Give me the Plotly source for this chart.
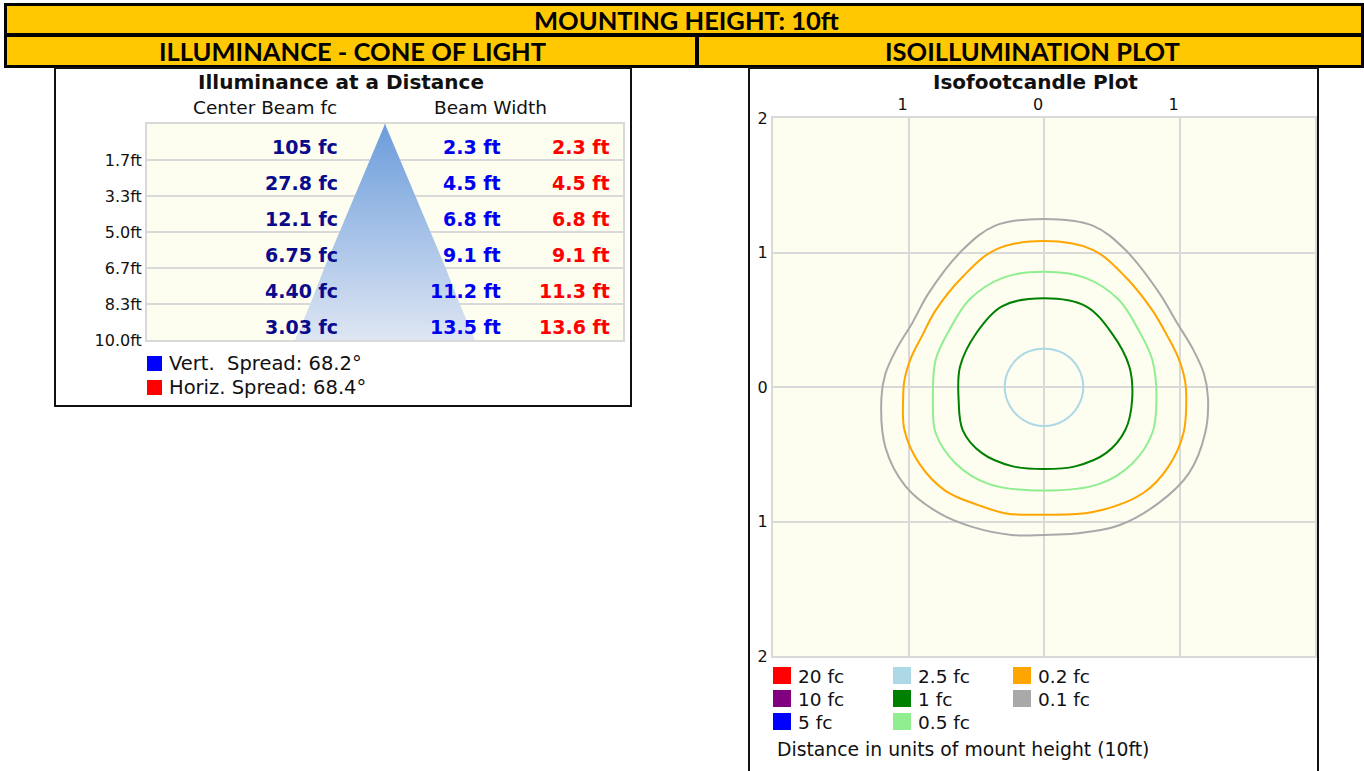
import plotly.graph_objects as go

W, H = 1364, 771

# ---------------- data: illuminance at a distance ----------------
distances_ft = [1.667, 3.333, 5.0, 6.667, 8.333, 10.0]
distance_labels = ["1.7ft", "3.3ft", "5.0ft", "6.7ft", "8.3ft", "10.0ft"]
center_beam_fc = [105, 27.8, 12.1, 6.75, 4.40, 3.03]
vert_width_ft = [2.3, 4.5, 6.8, 9.1, 11.2, 13.5]
horiz_width_ft = [2.3, 4.5, 6.8, 9.1, 11.3, 13.6]
vert_spread_deg = 68.2
horiz_spread_deg = 68.4

# ---------------- data: isofootcandle plot (units of mount height) ----------------
iso_tick_vals = [-2, -1, 0, 1, 2]
iso_top_ticktext = ["", "1", "0", "1", ""]
iso_left_ticktext = ["2", "1", "0", "1", "2"]

iso_0p1_x = [0, 0.36, 0.60, 0.85, 0.98, 1.10, 1.18, 1.21, 1.19, 1.07, 0.85, 0.55, 0.23, 0,
             -0.24, -0.53, -0.77, -1.02, -1.17, -1.20, -1.17, -1.09, -0.97, -0.85, -0.60, -0.36, 0]
iso_0p1_y = [1.25, 1.20, 1.02, 0.70, 0.48, 0.28, 0.10, -0.08, -0.34, -0.64, -0.86, -1.03, -1.09, -1.10,
             -1.10, -1.04, -0.94, -0.74, -0.45, -0.08, 0.10, 0.28, 0.48, 0.70, 1.02, 1.20, 1.25]

iso_0p2_x = [0, 0.36, 0.60, 0.80, 0.91, 0.99, 1.04, 1.05, 1.03, 0.92, 0.73, 0.36, 0,
             -0.28, -0.48, -0.73, -0.92, -1.03, -1.04, -1.03, -0.98, -0.90, -0.80, -0.60, -0.36, 0]
iso_0p2_y = [1.085, 1.02, 0.82, 0.57, 0.38, 0.22, 0.05, -0.10, -0.34, -0.59, -0.79, -0.93, -0.95,
             -0.94, -0.88, -0.77, -0.57, -0.32, -0.10, 0.05, 0.22, 0.38, 0.57, 0.82, 1.02, 1.085]

iso_0p5_x = [0, 0.31, 0.55, 0.70, 0.80, 0.83, 0.80, 0.65, 0.41, 0,
             -0.41, -0.65, -0.80, -0.82, -0.80, -0.70, -0.55, -0.31, 0]
iso_0p5_y = [0.857, 0.81, 0.65, 0.42, 0.20, -0.10, -0.34, -0.57, -0.72, -0.77,
             -0.72, -0.57, -0.34, -0.10, 0.20, 0.42, 0.65, 0.81, 0.857]

iso_1_x = [0, 0.31, 0.50, 0.63, 0.65, 0.60, 0.46, 0.23, 0,
           -0.23, -0.46, -0.60, -0.63, -0.62, -0.50, -0.31, 0]
iso_1_y = [0.66, 0.60, 0.40, 0.15, -0.10, -0.32, -0.49, -0.59, -0.61,
           -0.59, -0.49, -0.32, -0.10, 0.15, 0.40, 0.60, 0.66]

iso_2p5_x = [0, 0.145, 0.25, 0.29, 0.25, 0.145, 0, -0.145, -0.25, -0.29, -0.25, -0.145, 0]
iso_2p5_y = [0.285, 0.25, 0.145, 0, -0.145, -0.25, -0.29, -0.25, -0.145, 0, 0.145, 0.25, 0.285]

iso_labels = ["20 fc", "10 fc", "5 fc", "2.5 fc", "1 fc", "0.5 fc", "0.2 fc", "0.1 fc"]
iso_colors = ["#ff0000", "#800080", "#0000ff", "#add8e6", "#008000", "#90ee90", "#ffa500", "#a9a9a9"]

# ---------------- helpers ----------------
def px(x):
    return x / W


def py(y):
    return 1 - y / H


FONT = "DejaVu Sans"
HEAD_FONT = "Lato"

fig = go.Figure()

# cone of light (built from vertical beam widths)
cone_x = [0] + [w / 2 for w in vert_width_ft] + [-w / 2 for w in reversed(vert_width_ft)] + [0]
cone_y = [0] + distances_ft + list(reversed(distances_ft)) + [0]
fig.add_trace(go.Scatter(
    x=cone_x, y=cone_y, xaxis="x", yaxis="y", mode="lines",
    line=dict(width=0, color="rgba(0,0,0,0)"), fill="toself",
    fillgradient=dict(type="vertical", colorscale=[[0, "#dee6f3"], [1, "#6b9cdb"]]),
    hoverinfo="skip", showlegend=False,
))

# isofootcandle contours
for xs, ys, col in [
    (iso_0p1_x, iso_0p1_y, iso_colors[7]),
    (iso_0p2_x, iso_0p2_y, iso_colors[6]),
    (iso_0p5_x, iso_0p5_y, iso_colors[5]),
    (iso_1_x, iso_1_y, iso_colors[4]),
    (iso_2p5_x, iso_2p5_y, iso_colors[3]),
]:
    fig.add_trace(go.Scatter(
        x=xs, y=ys, xaxis="x2", yaxis="y2", mode="lines",
        line=dict(color=col, width=2, shape="spline", smoothing=1.0),
        hoverinfo="skip", showlegend=False,
    ))

shapes = []
annotations = []

# header
shapes.append(dict(type="rect", xref="paper", yref="paper", x0=px(4), x1=px(1364), y0=py(68), y1=py(3),
                   fillcolor="#000000", line=dict(width=0), layer="below"))
for x0, x1, y0, y1 in [(7, 1361, 6, 33), (7, 695, 37, 65), (699, 1361, 37, 65)]:
    shapes.append(dict(type="rect", xref="paper", yref="paper", x0=px(x0), x1=px(x1), y0=py(y1), y1=py(y0),
                       fillcolor="#ffc800", line=dict(width=0), layer="below"))
annotations += [
    dict(text="<b>MOUNTING HEIGHT: 10ft</b>", x=px(686), y=py(19.5), xref="paper", yref="paper",
         showarrow=False, xanchor="center", yanchor="middle", font=dict(family=HEAD_FONT, size=25.5, color="#000")),
    dict(text="<b>ILLUMINANCE - CONE OF LIGHT</b>", x=px(352), y=py(51), xref="paper", yref="paper",
         showarrow=False, xanchor="center", yanchor="middle", font=dict(family=HEAD_FONT, size=25.5, color="#000")),
    dict(text="<b>ISOILLUMINATION PLOT</b>", x=px(1032), y=py(51), xref="paper", yref="paper",
         showarrow=False, xanchor="center", yanchor="middle", font=dict(family=HEAD_FONT, size=25.5, color="#000")),
]

# panel boxes
shapes.append(dict(type="rect", xref="paper", yref="paper", x0=px(55), x1=px(631), y0=py(406), y1=py(68),
                   fillcolor="rgba(0,0,0,0)", line=dict(color="#111", width=2), layer="below"))
shapes.append(dict(type="rect", xref="paper", yref="paper", x0=px(749), x1=px(1318), y0=py(790), y1=py(68),
                   fillcolor="rgba(0,0,0,0)", line=dict(color="#111", width=2), layer="below"))

# left panel texts
annotations += [
    dict(text="<b>Illuminance at a Distance</b>", x=px(341), y=py(82), xref="paper", yref="paper",
         showarrow=False, xanchor="center", yanchor="middle", font=dict(family=FONT, size=20, color="#111")),
    dict(text="Center Beam fc", x=px(265), y=py(108), xref="paper", yref="paper",
         showarrow=False, xanchor="center", yanchor="middle", font=dict(family=FONT, size=18.5, color="#111")),
    dict(text="Beam Width", x=px(490), y=py(108), xref="paper", yref="paper",
         showarrow=False, xanchor="center", yanchor="middle", font=dict(family=FONT, size=18.5, color="#111")),
]

# table values
for d, fc, vw, hw in zip(distances_ft, center_beam_fc, vert_width_ft, horiz_width_ft):
    ytxt = d - 0.58
    fc_txt = "{:#.3g}".format(fc).rstrip(".")
    annotations.append(dict(text=f"<b>{fc_txt} fc</b>", x=-3.38, y=ytxt, xref="x", yref="y", showarrow=False,
                            xanchor="right", yanchor="middle", font=dict(family=FONT, size=19, color="#0a0a8c")))
    annotations.append(dict(text=f"<b>{vw:.1f} ft</b>", x=8.85, y=ytxt, xref="x", yref="y", showarrow=False,
                            xanchor="right", yanchor="middle", font=dict(family=FONT, size=19, color="#0000f0")))
    annotations.append(dict(text=f"<b>{hw:.1f} ft</b>", x=17.0, y=ytxt, xref="x", yref="y", showarrow=False,
                            xanchor="right", yanchor="middle", font=dict(family=FONT, size=19, color="#ff0000")))

# spread legend
for i, (col, txt) in enumerate([("#0000ff", f"Vert.  Spread: {vert_spread_deg}°"),
                                 ("#ff0000", f"Horiz. Spread: {horiz_spread_deg}°")]):
    y0 = 356 + i * 24
    shapes.append(dict(type="rect", xref="paper", yref="paper", x0=px(147), x1=px(162), y0=py(y0 + 15), y1=py(y0),
                       fillcolor=col, line=dict(width=0)))
    annotations.append(dict(text=txt, x=px(167), y=py(y0 + 7.5), xref="paper", yref="paper", showarrow=False,
                            xanchor="left", yanchor="middle", font=dict(family=FONT, size=19.5, color="#111")))

# right panel texts
annotations.append(dict(text="<b>Isofootcandle Plot</b>", x=px(1035), y=py(82), xref="paper", yref="paper",
                        showarrow=False, xanchor="center", yanchor="middle",
                        font=dict(family=FONT, size=20, color="#111")))

for i, (lab, col) in enumerate(zip(iso_labels, iso_colors)):
    c, r = divmod(i, 3)
    x0 = 773 + c * 120
    y0 = 667 + r * 23
    shapes.append(dict(type="rect", xref="paper", yref="paper", x0=px(x0), x1=px(x0 + 18), y0=py(y0 + 17),
                       y1=py(y0), fillcolor=col, line=dict(width=0)))
    annotations.append(dict(text=lab, x=px(x0 + 23), y=py(y0 + 9), xref="paper", yref="paper", showarrow=False,
                            xanchor="left", yanchor="middle", font=dict(family=FONT, size=18.5, color="#111")))

annotations.append(dict(text="Distance in units of mount height (10ft)", x=px(775), y=py(749), xref="paper",
                        yref="paper", showarrow=False, xanchor="left", yanchor="middle",
                        font=dict(family=FONT, size=18.8, color="#111")))

GRID = "#d9d9d9"
fig.update_layout(
    width=W, height=H, margin=dict(l=0, r=0, t=0, b=0, pad=0, autoexpand=False),
    paper_bgcolor="#ffffff", plot_bgcolor="#fdfdf0",
    showlegend=False, shapes=shapes, annotations=annotations,
    xaxis=dict(domain=[px(147), px(623)], range=[-17.85, 17.85], anchor="y", automargin=False,
               tickvals=[0], showticklabels=False, ticks="", showgrid=True, gridcolor=GRID, gridwidth=2,
               zeroline=False, showline=True, linecolor=GRID, linewidth=2, mirror=True, fixedrange=True),
    yaxis=dict(domain=[py(340), py(124)], range=[10, 0], anchor="x", automargin=False,
               tickvals=distances_ft, ticktext=distance_labels, ticks="", showgrid=True, gridcolor=GRID,
               gridwidth=2, zeroline=False, showline=True, linecolor=GRID, linewidth=2, mirror=True,
               tickfont=dict(family=FONT, size=16, color="#111"), fixedrange=True),
    xaxis2=dict(domain=[px(773), px(1315)], range=[-2, 2], anchor="y2", side="top", automargin=False,
                tickvals=iso_tick_vals, ticktext=iso_top_ticktext, ticks="", showgrid=True, gridcolor=GRID,
                gridwidth=2, zeroline=False, showline=True, linecolor=GRID, linewidth=2, mirror=True,
                ticklabelshift=-6, tickfont=dict(family=FONT, size=16, color="#111"), fixedrange=True),
    yaxis2=dict(domain=[py(656), py(118)], range=[-2, 2], anchor="x2", automargin=False,
                tickvals=iso_tick_vals, ticktext=iso_left_ticktext, ticks="", showgrid=True, gridcolor=GRID,
                gridwidth=2, zeroline=False, showline=True, linecolor=GRID, linewidth=2, mirror=True,
                tickfont=dict(family=FONT, size=16, color="#111"), fixedrange=True),
)

fig.write_html("out.html", config={"displayModeBar": False},
               post_script="document.body.style.margin='0';document.body.style.overflow='hidden';")
